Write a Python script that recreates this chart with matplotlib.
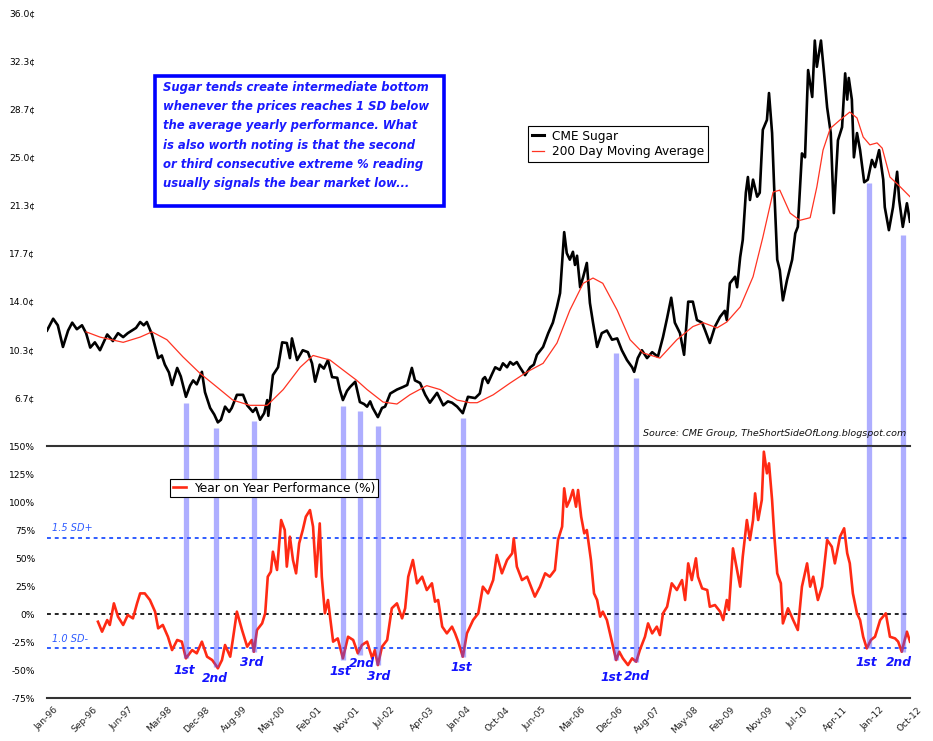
import numpy as np
import matplotlib
matplotlib.use('Agg')
import matplotlib.pyplot as plt
from matplotlib.patches import Rectangle

# CME sugar, cents per lb (decimal year, price)
price_t = [1996.00, 1996.12, 1996.21, 1996.31, 1996.41, 1996.49, 1996.58, 1996.68, 1996.76, 1996.84,
           1996.93, 1997.03, 1997.17, 1997.28, 1997.38, 1997.48, 1997.57, 1997.65, 1997.73, 1997.81,
           1997.88, 1997.94, 1998.04, 1998.16, 1998.23, 1998.29, 1998.37, 1998.43, 1998.53, 1998.60,
           1998.70, 1998.78, 1998.84, 1998.91, 1999.01, 1999.07, 1999.17, 1999.25, 1999.32, 1999.38,
           1999.46, 1999.54, 1999.59, 1999.69, 1999.81, 1999.89, 2000.00, 2000.06, 2000.14, 2000.22,
           2000.28, 2000.30, 2000.39, 2000.49, 2000.57, 2000.66, 2000.72, 2000.76, 2000.86, 2000.97,
           2001.07, 2001.15, 2001.21, 2001.30, 2001.38, 2001.46, 2001.54, 2001.64, 2001.69, 2001.75,
           2001.83, 2001.89, 2001.99, 2002.08, 2002.16, 2002.22, 2002.28, 2002.33, 2002.43, 2002.51,
           2002.57, 2002.67, 2002.80, 2002.92, 2003.00, 2003.09, 2003.15, 2003.25, 2003.35, 2003.44,
           2003.58, 2003.70, 2003.79, 2003.87, 2003.97, 2004.08, 2004.18, 2004.32, 2004.41, 2004.47,
           2004.51, 2004.57, 2004.65, 2004.71, 2004.80, 2004.86, 2004.94, 2005.00, 2005.06, 2005.13,
           2005.19, 2005.29, 2005.39, 2005.46, 2005.52, 2005.64, 2005.74, 2005.83, 2005.91, 2005.97,
           2006.01, 2006.05, 2006.10, 2006.16, 2006.22, 2006.26, 2006.30, 2006.36, 2006.42, 2006.49,
           2006.55, 2006.61, 2006.69, 2006.78, 2006.88, 2006.98, 2007.08, 2007.17, 2007.27, 2007.37,
           2007.41, 2007.48, 2007.56, 2007.66, 2007.76, 2007.87, 2007.97, 2008.05, 2008.13, 2008.20,
           2008.30, 2008.38, 2008.46, 2008.55, 2008.63, 2008.73, 2008.79, 2008.88, 2008.98, 2009.08,
           2009.17, 2009.21, 2009.27, 2009.37, 2009.41, 2009.47, 2009.52, 2009.58, 2009.62, 2009.66,
           2009.72, 2009.80, 2009.85, 2009.91, 2009.99, 2010.03, 2010.09, 2010.13, 2010.19, 2010.24,
           2010.30, 2010.38, 2010.48, 2010.54, 2010.59, 2010.67, 2010.73, 2010.79, 2010.87, 2010.92,
           2010.96, 2011.04, 2011.10, 2011.16, 2011.23, 2011.29, 2011.37, 2011.45, 2011.51, 2011.55,
           2011.58, 2011.64, 2011.68, 2011.74, 2011.80, 2011.88, 2011.95, 2012.03, 2012.09, 2012.17,
           2012.25, 2012.28, 2012.36, 2012.44, 2012.52, 2012.56, 2012.63, 2012.71, 2012.77]
price_v = [11.8, 12.7, 12.2, 10.55, 11.8, 12.4, 11.9, 12.2, 11.6, 10.5,
           10.9, 10.3, 11.5, 11.0, 11.6, 11.3, 11.6, 11.8, 12.0, 12.45,
           12.2, 12.45, 11.5, 9.7, 9.9, 9.2, 8.6, 7.65, 8.95, 8.3,
           6.75, 7.6, 8.0, 7.7, 8.65, 7.1, 5.9, 5.4, 4.8, 5.0,
           6.0, 5.6, 5.9, 6.9, 6.9, 6.1, 5.6, 5.9, 5.0, 5.5,
           6.5, 5.3, 8.4, 9.0, 10.9, 10.85, 9.7, 11.2, 9.55, 10.3,
           10.15, 9.3, 7.9, 9.2, 8.9, 9.55, 8.25, 8.2, 7.3, 6.5,
           7.2, 7.5, 7.9, 6.35, 6.2, 6.0, 6.4, 5.9, 5.2, 5.9,
           6.0, 7.0, 7.3, 7.5, 7.65, 8.95, 8.0, 7.8, 6.9, 6.3,
           7.05, 6.1, 6.4, 6.3, 6.0, 5.5, 6.75, 6.65, 7.0, 8.1,
           8.25, 7.8, 8.5, 9.0, 8.8, 9.3, 9.0, 9.4, 9.2, 9.4,
           9.0, 8.4, 9.0, 9.2, 9.95, 10.55, 11.6, 12.4, 13.6, 14.65,
           16.95, 19.3, 17.7, 17.2, 17.8, 16.8, 17.5, 15.1, 15.9, 16.95,
           13.9, 12.4, 10.55, 11.6, 11.8, 11.1, 11.2, 10.3, 9.55, 9.0,
           8.65, 9.7, 10.3, 9.7, 10.15, 9.8, 11.3, 12.75, 14.3, 12.4,
           11.6, 9.95, 14.0, 14.0, 12.6, 12.4, 11.8, 10.85, 12.1, 12.85,
           13.3, 12.6, 15.4, 15.9, 15.1, 17.4, 18.7, 22.3, 23.5, 21.75,
           23.3, 22.0, 22.3, 27.1, 27.85, 29.9, 26.85, 22.75, 17.2, 16.4,
           14.1, 15.65, 17.2, 19.2, 19.7, 25.3, 25.0, 31.65, 29.6, 33.9,
           31.9, 33.9, 31.4, 28.8, 26.85, 20.75, 26.3, 27.3, 31.4, 29.4,
           31.05, 29.4, 25.0, 26.85, 25.55, 23.1, 23.3, 24.8, 24.25, 25.55,
           23.3, 21.2, 19.45, 21.2, 23.9, 21.75, 19.7, 21.5, 20.1]

# 200 day moving average
ma_t = [1996.76, 1997.03, 1997.48, 1997.81, 1998.04, 1998.33, 1998.64, 1998.97, 1999.30, 1999.61,
        1999.94, 2000.28, 2000.59, 2000.92, 2001.17, 2001.50, 2001.75, 2002.02, 2002.22, 2002.53,
        2002.80, 2003.05, 2003.38, 2003.64, 2003.97, 2004.22, 2004.36, 2004.67, 2005.00, 2005.33,
        2005.64, 2005.91, 2006.16, 2006.42, 2006.61, 2006.80, 2007.08, 2007.33, 2007.58, 2007.91,
        2008.24, 2008.55, 2008.75, 2009.02, 2009.21, 2009.47, 2009.72, 2009.91, 2010.11, 2010.24,
        2010.44, 2010.63, 2010.83, 2010.96, 2011.08, 2011.22, 2011.41, 2011.60, 2011.74, 2011.86,
        2011.99, 2012.13, 2012.23, 2012.38, 2012.58, 2012.77]
ma_v = [11.7, 11.3, 10.9, 11.3, 11.7, 11.1, 9.8, 8.55, 7.5, 6.5,
        6.1, 6.1, 7.3, 9.0, 9.9, 9.55, 8.8, 8.0, 7.3, 6.35,
        6.2, 6.9, 7.6, 7.3, 6.5, 6.3, 6.3, 6.9, 7.8, 8.65,
        9.3, 10.85, 13.35, 15.4, 15.8, 15.4, 13.35, 11.1, 10.1, 9.7,
        11.1, 12.1, 12.4, 12.0, 12.45, 13.6, 15.9, 18.9, 22.35, 22.5,
        20.75, 20.2, 20.4, 22.75, 25.55, 27.2, 27.85, 28.45, 28.0, 26.55,
        25.95, 26.1, 25.7, 23.5, 22.75, 22.0]

# year on year performance, %
yoy_t = [1996.99, 1997.07, 1997.17, 1997.22, 1997.30, 1997.38, 1997.48, 1997.57, 1997.67, 1997.75,
         1997.81, 1997.90, 1998.00, 1998.10, 1998.16, 1998.25, 1998.35, 1998.43, 1998.53, 1998.62,
         1998.70, 1998.82, 1998.91, 1999.01, 1999.11, 1999.21, 1999.28, 1999.32, 1999.40, 1999.46,
         1999.56, 1999.61, 1999.69, 1999.79, 1999.89, 1999.98, 2000.02, 2000.08, 2000.18, 2000.24,
         2000.29, 2000.35, 2000.39, 2000.47, 2000.55, 2000.62, 2000.66, 2000.72, 2000.78, 2000.84,
         2000.90, 2000.97, 2001.03, 2001.11, 2001.17, 2001.23, 2001.30, 2001.34, 2001.40, 2001.46,
         2001.56, 2001.65, 2001.75, 2001.85, 2001.95, 2002.04, 2002.12, 2002.22, 2002.32, 2002.37,
         2002.43, 2002.51, 2002.61, 2002.70, 2002.80, 2002.90, 2002.96, 2003.02, 2003.11, 2003.19,
         2003.29, 2003.38, 2003.48, 2003.54, 2003.60, 2003.68, 2003.77, 2003.87, 2003.93, 2003.99,
         2004.08, 2004.16, 2004.28, 2004.38, 2004.47, 2004.57, 2004.67, 2004.74, 2004.84, 2004.94,
         2005.04, 2005.07, 2005.13, 2005.23, 2005.33, 2005.48, 2005.58, 2005.68, 2005.77, 2005.87,
         2005.93, 2006.01, 2006.05, 2006.10, 2006.16, 2006.22, 2006.28, 2006.32, 2006.38, 2006.44,
         2006.49, 2006.57, 2006.63, 2006.69, 2006.75, 2006.80, 2006.88, 2006.94, 2007.00, 2007.06,
         2007.12, 2007.19, 2007.29, 2007.37, 2007.45, 2007.52, 2007.62, 2007.68, 2007.76, 2007.85,
         2007.91, 2007.97, 2008.05, 2008.14, 2008.24, 2008.34, 2008.40, 2008.46, 2008.53, 2008.61,
         2008.65, 2008.73, 2008.83, 2008.88, 2008.98, 2009.08, 2009.14, 2009.21, 2009.25, 2009.33,
         2009.41, 2009.47, 2009.52, 2009.60, 2009.66, 2009.72, 2009.76, 2009.82, 2009.89, 2009.93,
         2009.99, 2010.03, 2010.09, 2010.13, 2010.19, 2010.26, 2010.30, 2010.40, 2010.50, 2010.59,
         2010.67, 2010.77, 2010.83, 2010.89, 2010.98, 2011.06, 2011.16, 2011.25, 2011.31, 2011.41,
         2011.49, 2011.55, 2011.60, 2011.66, 2011.74, 2011.80, 2011.86, 2011.93, 2012.01, 2012.09,
         2012.19, 2012.30, 2012.38, 2012.48, 2012.54, 2012.61, 2012.65, 2012.71, 2012.77]
yoy_v = [-6.9, -15.8, -5.4, -9.8, 9.5, -2.4, -9.8, -0.9, -3.9, 9.5,
         18.4, 18.4, 12.5, 2.1, -12.8, -9.8, -20.3, -32.2, -23.2, -24.7,
         -39.6, -32.2, -35.1, -24.7, -38.1, -41.1, -45.6, -48.5, -41.1, -27.7,
         -38.1, -23.2, 2.1, -14.3, -29.2, -23.2, -33.7, -14.3, -8.4, 0.6,
         33.3, 37.8, 55.6, 39.3, 83.9, 75.0, 42.3, 69.0, 48.2, 36.3,
         63.1, 75.0, 86.9, 92.8, 78.0, 33.3, 80.9, 33.3, 0.6, 12.5,
         -24.7, -21.8, -39.6, -20.3, -23.2, -35.1, -27.7, -24.7, -39.6, -32.2,
         -45.6, -29.2, -23.2, 5.1, 9.5, -3.9, 5.1, 33.3, 48.2, 27.4,
         33.3, 21.4, 27.4, 11.0, 12.5, -11.3, -17.3, -11.3, -17.3, -24.7,
         -38.1, -17.3, -5.4, 0.6, 24.4, 18.4, 30.3, 52.7, 36.3, 48.2,
         54.2, 67.5, 42.3, 30.3, 33.3, 15.5, 24.4, 36.3, 33.3, 39.3,
         66.1, 78.0, 112.2, 95.8, 101.8, 110.7, 95.8, 110.7, 86.9, 72.0,
         75.0, 48.2, 18.4, 12.5, -2.4, 2.1, -5.4, -17.3, -29.2, -41.1,
         -33.7, -39.6, -45.6, -39.6, -42.6, -32.2, -20.3, -8.4, -17.3, -11.3,
         -18.8, 0.6, 6.5, 27.4, 21.4, 30.3, 12.5, 45.2, 30.3, 49.7,
         33.3, 22.9, 21.4, 6.5, 8.0, 2.1, -5.4, 12.5, 3.6, 58.6,
         39.3, 24.4, 51.2, 83.9, 66.1, 83.9, 107.7, 83.9, 101.8, 144.9,
         125.6, 134.5, 101.8, 72.0, 36.3, 27.4, -8.4, 5.1, -5.4, -14.3,
         24.4, 45.2, 24.4, 33.3, 12.5, 24.4, 66.1, 60.1, 45.2, 69.0,
         76.5, 54.2, 45.2, 18.4, 0.6, -5.4, -20.3, -30.7, -23.2, -20.3,
         -5.4, 0.6, -20.3, -21.8, -24.7, -33.7, -26.2, -15.8, -24.7]

# marked bottoms: date, price just under the low, YoY reading at the low
bar_t = [1998.70, 1999.28, 2000.02, 2001.75, 2002.08, 2002.43, 2004.08, 2007.06, 2007.45, 2011.97, 2012.63]
bar_price = [6.28, 4.37, 4.9, 6.05, 5.67, 4.53, 5.14, 10.09, 8.18, 23.04, 19.08]
bar_yoy = [-39.6, -47.0, -33.7, -41.0, -36.6, -45.6, -38.1, -41.1, -42.6, -30.7, -33.7]
bar_names = ['1st', '2nd', '3rd', '1st', '2nd', '3rd', '1st', '1st', '2nd', '1st', '2nd']
name_t = [1998.66, 1999.26, 1999.98, 2001.70, 2002.11, 2002.45, 2004.06, 2006.96, 2007.47, 2011.93, 2012.56]
name_y = [-50.0, -58.0, -42.9, -51.5, -44.5, -55.4, -48.2, -56.3, -55.4, -42.9, -42.9]

sd_plus = 68
sd_minus = -30

price_ticks = [6.67, 10.33, 14.0, 17.67, 21.33, 25.0, 28.67, 32.33, 36.0]
pct_ticks = [-75, -50, -25, 0, 25, 50, 75, 100, 125, 150]
month_labels = ['Jan-96', 'Sep-96', 'Jun-97', 'Mar-98', 'Dec-98', 'Aug-99', 'May-00', 'Feb-01',
                'Nov-01', 'Jul-02', 'Apr-03', 'Jan-04', 'Oct-04', 'Jun-05', 'Mar-06', 'Dec-06',
                'Aug-07', 'May-08', 'Feb-09', 'Nov-09', 'Jul-10', 'Apr-11', 'Jan-12', 'Oct-12']

box_text = ("Sugar tends create intermediate bottom\n"
            "whenever the prices reaches 1 SD below\n"
            "the average yearly performance. What\n"
            "is also worth noting is that the second\n"
            "or third consecutive extreme % reading\n"
            "usually signals the bear market low...")

plt.rcParams['font.family'] = ['DejaVu Sans']

W, H = 933, 741
fig = plt.figure(figsize=(W / 100, H / 100), dpi=100)
x0, x1 = 47, 910
ax1 = fig.add_axes([x0 / W, 1 - 446 / H, (x1 - x0) / W, (446 - 13) / H])
ax2 = fig.add_axes([x0 / W, 1 - 698 / H, (x1 - x0) / W, (698 - 446) / H])

t_start, t_end = 1996.0, 2012.77
bar_color = (0.3, 0.3, 1.0)
red = '#ff2a14'

# upper panel: price + MA
ax1.plot(price_t, price_v, color='black', lw=1.9, label='CME Sugar', zorder=3)
ax1.plot(ma_t, ma_v, color='#ff3322', lw=0.9, label='200 Day Moving Average', zorder=3)
ax1.vlines(bar_t, 3.0, bar_price, color=bar_color, alpha=0.45, lw=3.8, zorder=4, capstyle='butt')
ax1.set_xlim(t_start, t_end)
ax1.set_ylim(3.0, 36.0)
ax1.set_yticks(price_ticks)
ax1.set_yticklabels(['%.1f\u00a2' % v for v in price_ticks])
ax1.set_xticks([])
for s in ax1.spines.values():
    s.set_visible(False)
ax1.tick_params(axis='y', length=0, pad=8.5, labelsize=6.6)

leg1 = ax1.legend(loc='upper left', bbox_to_anchor=(528 / W, 1 - 126 / H), bbox_transform=fig.transFigure,
                  fancybox=False, edgecolor='black', framealpha=1, fontsize=8.7, borderpad=0.3,
                  borderaxespad=0, labelspacing=0.2, handlelength=1.0, handletextpad=0.7)
leg1.get_frame().set_linewidth(0.8)
leg1.get_lines()[0].set_linewidth(2.2)

# lower panel: YoY performance
ax2.plot(yoy_t, yoy_v, color=red, lw=1.9, label='Year on Year Performance (%)', zorder=3)
ax2.axhline(sd_plus, color='#2f5cff', lw=1.4, ls=(0, (2, 2)), zorder=2)
ax2.axhline(sd_minus, color='#2f5cff', lw=1.4, ls=(0, (2, 2)), zorder=2)
ax2.axhline(0, color='#222222', lw=1.4, ls=(0, (2, 2)), zorder=2)
ax2.vlines(bar_t, bar_yoy, 150, color=bar_color, alpha=0.45, lw=3.8, zorder=4, capstyle='butt')
for t, y, s in zip(name_t, name_y, bar_names):
    ax2.text(t, y, s, color='#1414ff', fontsize=8.8, style='italic', weight='bold',
             ha='center', va='center', zorder=5)
ax2.text(1996.1, sd_plus + 9, '1.5 SD+', color='#2f5cff', fontsize=7, style='italic', va='center')
ax2.text(1996.1, sd_minus + 8, '1.0 SD-', color='#2f5cff', fontsize=7, style='italic', va='center')

ax2.set_xlim(t_start, t_end)
ax2.set_ylim(-75, 150)
ax2.set_yticks(pct_ticks)
ax2.set_yticklabels(['%d%%' % v for v in pct_ticks])
ax2.set_xticks(np.linspace(t_start, t_end, len(month_labels)))
ax2.set_xticklabels(month_labels, rotation=45, ha='center', va='top')
ax2.tick_params(axis='y', length=0, pad=8.5, labelsize=6.6)
ax2.tick_params(axis='x', length=0, pad=5, labelsize=6.6, labelcolor='#222222')
for side in ['left', 'right']:
    ax2.spines[side].set_visible(False)
for side in ['top', 'bottom']:
    ax2.spines[side].set_color('#333333')
    ax2.spines[side].set_linewidth(1.5)

leg2 = ax2.legend(loc='upper left', bbox_to_anchor=(170 / W, 1 - 479 / H), bbox_transform=fig.transFigure,
                  fancybox=False, edgecolor='black', framealpha=1, fontsize=8.8, borderpad=0.22,
                  borderaxespad=0, handlelength=1.05, handletextpad=0.7)
leg2.get_frame().set_linewidth(0.8)
leg2.set_zorder(6)

# note box and source
fig.add_artist(Rectangle((155 / W, 1 - 206 / H), 289 / W, 130 / H, transform=fig.transFigure,
                         fill=False, edgecolor='#0000ff', lw=2.6))
fig.text(163 / W, 1 - 81 / H, box_text, ha='left', va='top', fontsize=8.4, style='italic',
         weight='bold', color='#1a1aff', linespacing=1.62)
fig.text(906 / W, 1 - 434 / H, 'Source: CME Group, TheShortSideOfLong.blogspot.com',
         ha='right', va='center', fontsize=6.8, style='italic', color='#111111')

fig.savefig('out.png', dpi=100)
